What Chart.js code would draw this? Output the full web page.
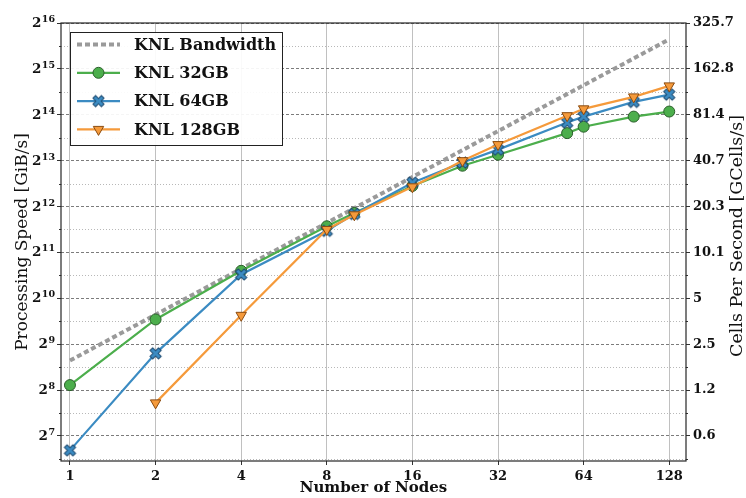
<!DOCTYPE html>
<html>
<head>
<meta charset="utf-8">
<script src="https://cdn.jsdelivr.net/npm/chart.js@4/dist/chart.umd.min.js"></script>
<style>
  body{margin:0;background:#fff}
  #wrap{width:746px;height:498px}
</style>
</head>
<body>
<div id="wrap"><canvas id="chart" width="746" height="498"></canvas></div>
<script>
// values (GiB/s vs number of nodes)
const nodesBW   = [1,2,4,8,16,32,64,128];
const bandwidth = [400,800,1600,3200,6400,12800,25600,51200];
const nodes32   = [1,2,4,8,10,16,24,32,56,64,96,128];
const knl32     = [276,744,1552,3040,3717,5595,7590,8962,12417,13683,15935,17199];
const nodes64   = [1,2,4,8,10,16,24,32,56,64,96,128];
const knl64     = [103,446,1468,2837,3666,5873,7967,9675,14564,15935,19895,22231];
const nodes128  = [2,4,8,10,16,24,32,56,64,96,128];
const knl128    = [211,792,2896,3615,5518,8192,10444,16159,17925,21469,25350];

const xTicks = [1,2,4,8,16,32,64,128];
const yTicks = [128,256,512,1024,2048,4096,8192,16384,32768,65536];
const yExponents = ['7','8','9','10','11','12','13','14','15','16'];
const cellTickLabels = ['0.6','1.2','2.5','5','10.1','20.3','40.7','81.4','162.8','325.7'];
const yMinor = [90.5,181,362,724,1448,2896,5793,11585,23170,46341];

const FONT = "'DejaVu Serif', serif";
Chart.defaults.font.family = FONT;
Chart.defaults.color = '#111';

const pts = (xs, ys) => xs.map((x,i)=>({x, y:ys[i]}));

// filled "X" marker like matplotlib's 'X'
function makeX(fill, edge){
  const c = document.createElement('canvas');
  c.width = c.height = 15;
  const g = c.getContext('2d');
  const r = 6, a = 1.9;
  const p = [[a,r],[a,a],[r,a],[r,-a],[a,-a],[a,-r],[-a,-r],[-a,-a],[-r,-a],[-r,a],[-a,a],[-a,r]];
  g.translate(7.5,7.5); g.rotate(Math.PI/4);
  g.beginPath();
  p.forEach(([px,py],i)=> i ? g.lineTo(px,py) : g.moveTo(px,py));
  g.closePath();
  g.fillStyle = fill; g.fill();
  g.lineWidth = 1; g.strokeStyle = edge; g.stroke();
  return c;
}
const xMarker = makeX('#3b8bc2','#1d4a70');

const datasets = [
  {label:'KNL Bandwidth', data:pts(nodesBW,bandwidth), borderColor:'#9a9a9a', borderWidth:4,
   borderDash:[5,3], pointRadius:0, order:4, fill:false},
  {label:'KNL 32GB', data:pts(nodes32,knl32), borderColor:'#4cae4c', backgroundColor:'#4cae4c', borderWidth:2.2,
   pointStyle:'circle', pointRadius:5.5, pointBorderColor:'#2a5e2a', pointBorderWidth:1, order:3},
  {label:'KNL 64GB', data:pts(nodes64,knl64), borderColor:'#3b8bc2', backgroundColor:'#3b8bc2', borderWidth:2.2,
   pointStyle:xMarker, pointRadius:6, pointBorderWidth:1, order:2},
  {label:'KNL 128GB', data:pts(nodes128,knl128), borderColor:'#f59a3b', backgroundColor:'#f59a3b', borderWidth:2.2,
   pointStyle:'triangle', pointRotation:180, pointRadius:6, pointBorderColor:'#8a4b10', pointBorderWidth:1, order:1}
];

// minor grid, minor ticks and frame
const framePlugin = {
  id:'frame',
  beforeDatasetsDraw(chart){
    const {ctx, chartArea:a, scales} = chart;
    ctx.save();
    ctx.strokeStyle = '#b8b8b8'; ctx.lineWidth = 1; ctx.setLineDash([1,2]);
    yMinor.forEach(v=>{
      const y = Math.round(scales.y.getPixelForValue(v)) + 0.5;
      if (y < a.top || y > a.bottom) return;
      ctx.beginPath(); ctx.moveTo(a.left,y); ctx.lineTo(a.right,y); ctx.stroke();
    });
    ctx.setLineDash([]);
    ctx.strokeStyle = '#333';
    yMinor.forEach(v=>{
      const y = Math.round(scales.y.getPixelForValue(v)) + 0.5;
      if (y < a.top || y > a.bottom) return;
      ctx.beginPath(); ctx.moveTo(a.left-2,y); ctx.lineTo(a.left,y);
      ctx.moveTo(a.right,y); ctx.lineTo(a.right+2,y); ctx.stroke();
    });
    ctx.lineWidth = 1.2; ctx.strokeStyle = '#262626';
    ctx.strokeRect(a.left, a.top, a.right-a.left, a.bottom-a.top);
    ctx.restore();
  },
  afterDraw(chart){
    const {ctx, chartArea:a, scales} = chart;
    ctx.save();
    ctx.fillStyle = '#111';
    // left tick labels as 2 with a raised exponent
    yTicks.forEach((v,i)=>{
      const y = scales.y.getPixelForValue(v);
      const right = a.left - 6;
      ctx.font = 'bold 9.5px ' + FONT;
      ctx.textAlign = 'right'; ctx.textBaseline = 'alphabetic';
      const ew = ctx.measureText(yExponents[i]).width;
      ctx.fillText(yExponents[i], right, y - 1);
      ctx.font = 'bold 13.5px ' + FONT;
      ctx.fillText('2', right - ew - 0.5, y + 4);
    });
    // right axis title, reading upwards
    ctx.translate(737, (a.top + a.bottom)/2 - 6);
    ctx.rotate(-Math.PI/2);
    ctx.font = '17.5px ' + FONT;
    ctx.textAlign = 'center'; ctx.textBaseline = 'middle';
    ctx.fillText('Cells Per Second [GCells/s]', 0, 0);
    ctx.restore();
  }
};

// legend box inside the plot, top-left
const legendPlugin = {
  id:'boxLegend',
  afterDatasetsDraw(chart){
    const {ctx, chartArea:a} = chart;
    const x0 = a.left + 9, y0 = a.top + 9, w = 212, h = 113;
    ctx.save();
    ctx.fillStyle = 'rgba(255,255,255,0.92)';
    ctx.fillRect(x0,y0,w,h);
    ctx.strokeStyle = '#222'; ctx.lineWidth = 1;
    ctx.strokeRect(x0+0.5,y0+0.5,w,h);
    chart.data.datasets.forEach((ds,i)=>{
      const y = y0 + 12.5 + i*28.3;
      ctx.save();
      ctx.strokeStyle = ds.borderColor; ctx.lineWidth = ds.borderWidth;
      ctx.setLineDash(ds.borderDash || []);
      ctx.beginPath(); ctx.moveTo(x0+7,y); ctx.lineTo(x0+50,y); ctx.stroke();
      ctx.setLineDash([]);
      if (ds.pointRadius > 0 && Chart.helpers && Chart.helpers.drawPoint){
        ctx.fillStyle = ds.backgroundColor;
        ctx.strokeStyle = ds.pointBorderColor || ds.borderColor;
        ctx.lineWidth = ds.pointBorderWidth || 1;
        Chart.helpers.drawPoint(ctx, {pointStyle:ds.pointStyle, rotation:ds.pointRotation||0,
          radius:ds.pointRadius, borderWidth:ds.pointBorderWidth||0}, x0+28.5, y);
      }
      ctx.restore();
      ctx.fillStyle = '#111';
      ctx.font = 'bold 16px ' + FONT;
      ctx.textBaseline = 'middle';
      ctx.fillText(ds.label, x0+64, y+1);
    });
    ctx.restore();
  }
};

const yRange = {min:87.7, max:65536};

new Chart(document.getElementById('chart'), {
  type:'line',
  data:{datasets},
  plugins:[framePlugin, legendPlugin],
  options:{
    responsive:false, animation:false,
    layout:{padding:{top:23, left:0, right:0, bottom:0}},
    plugins:{legend:{display:false}, tooltip:{enabled:false}},
    elements:{line:{tension:0}},
    scales:{
      x:{type:'logarithmic', position:'bottom', min:0.93, max:146.6,
        afterBuildTicks: s => { s.ticks = xTicks.map(v=>({value:v})); },
        afterFit: s => { s.height = 37; },
        ticks:{callback: v => String(v), font:{size:13, weight:'bold'}, color:'#111', padding:4, maxRotation:0, autoSkip:false},
        grid:{color:'#c0c0c0', lineWidth:1, tickLength:4, tickColor:'#333'},
        border:{display:false},
        title:{display:true, text:'Number of Nodes', font:{size:15, weight:'bold'}, color:'#111', padding:{top:0,bottom:1}}
      },
      y:{type:'logarithmic', position:'left', min:yRange.min, max:yRange.max,
        afterBuildTicks: s => { s.ticks = yTicks.map(v=>({value:v})); },
        afterFit: s => { s.width = 61; },
        ticks:{display:false},
        grid:{color:'#7c7c7c', lineWidth:1, tickLength:4, tickColor:'#333'},
        border:{display:false, dash:[3,2]},
        title:{display:true, text:'Processing Speed [GiB/s]', font:{size:17}, color:'#111', padding:{top:12,bottom:0}}
      },
      y2:{type:'logarithmic', position:'right', min:yRange.min, max:yRange.max,
        afterBuildTicks: s => { s.ticks = yTicks.map(v=>({value:v})); },
        afterFit: s => { s.width = 60; },
        ticks:{callback:(v,i)=>cellTickLabels[i], font:{size:13, weight:'bold'}, color:'#111', padding:3, autoSkip:false},
        grid:{drawOnChartArea:false, tickLength:4, tickColor:'#333'},
        border:{display:false}
      }
    }
  }
});
</script>
</body>
</html>
